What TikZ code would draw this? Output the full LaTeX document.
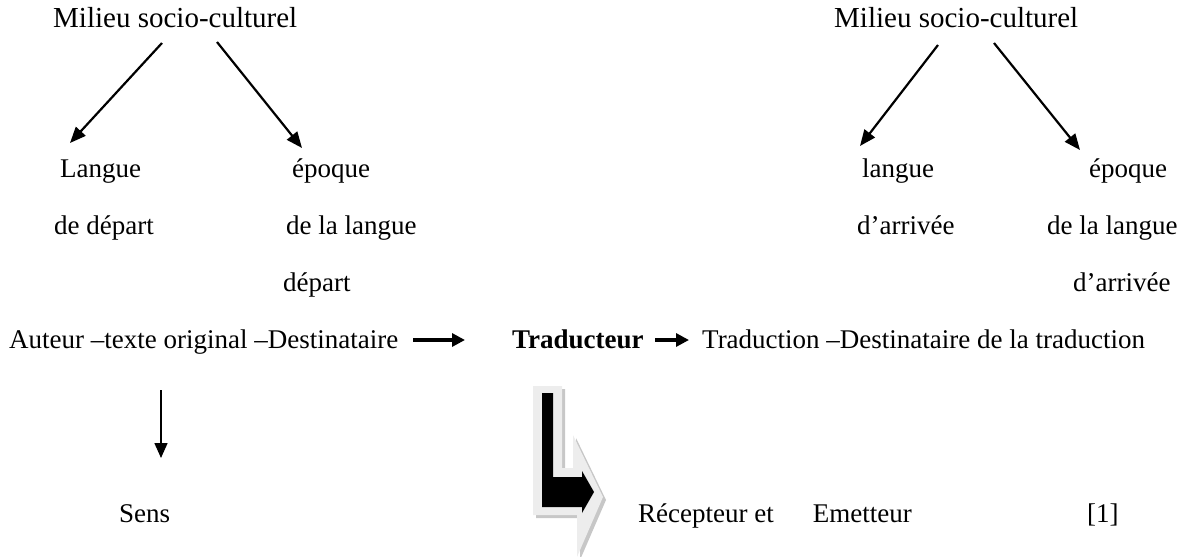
\documentclass[tikz,border=0pt]{standalone}
\usepackage{fontspec}
\setmainfont{Liberation Serif}
\usetikzlibrary{arrows.meta}
\begin{document}
\begin{tikzpicture}[x=1pt,y=-1pt,
  txt/.style={anchor=base west, inner sep=0pt, font=\fontsize{27}{32}\selectfont},
  big/.style={anchor=base west, inner sep=0pt, font=\fontsize{29}{34}\selectfont},
  slant/.style={line width=2.2pt, -{Triangle[length=16pt,width=13pt]}},
  flow/.style={line width=3.2pt, -{Triangle[length=13pt,width=13pt]}},
  down/.style={line width=1.6pt, -{Triangle[length=15pt,width=13pt]}},
  light/.style={fill=black!7, draw=none},
  shade/.style={fill=black!22, draw=none}
]
\useasboundingbox (0,0) rectangle (1179,557);

% top labels
\node[big] (m1) at (53,27) {Milieu socio-culturel};
\node[big] (m2) at (834,27) {Milieu socio-culturel};

% left column
\node[txt] (l1) at (60,177) {Langue};
\node[txt] (l2) at (54,234) {de départ};
\node[txt] (e1) at (292,177) {époque};
\node[txt] (e2) at (286,234) {de la langue};
\node[txt] (e3) at (283,291) {départ};

% right column
\node[txt] (r1) at (862,177) {langue};
\node[txt] (r2) at (857,234) {d’arrivée};
\node[txt] (f1) at (1089,177) {époque};
\node[txt] (f2) at (1047,234) {de la langue};
\node[txt] (f3) at (1073,291) {d’arrivée};

% main line
\node[txt] (aut) at (9,348) {Auteur –texte original –Destinataire};
\node[txt, font=\fontsize{27}{32}\selectfont\bfseries] (trad) at (512,348) {Traducteur};
\node[txt] (tion) at (702,348) {Traduction –Destinataire de la traduction};

% bottom line
\node[txt] (sens) at (119,522) {Sens};
\node[txt] (rec) at (638,522) {Récepteur et\hspace{39pt}Emetteur};
\node[txt] (ref) at (1087,522) {[1]};

% arrow endpoints
\coordinate (a1s) at (162,43);  \coordinate (a1e) at (70,143);
\coordinate (a2s) at (217,42);  \coordinate (a2e) at (302,148);
\coordinate (b1s) at (938,45);  \coordinate (b1e) at (860,146);
\coordinate (b2s) at (994,43);  \coordinate (b2e) at (1080,150);
\coordinate (c1s) at (413,340); \coordinate (c1e) at (465,340);
\coordinate (c2s) at (655,340); \coordinate (c2e) at (689,340);
\coordinate (d1s) at (161,390); \coordinate (d1e) at (161,458);

\draw[slant] (a1s) -- (a1e);
\draw[slant] (a2s) -- (a2e);
\draw[slant] (b1s) -- (b1e);
\draw[slant] (b2s) -- (b2e);
\draw[flow] (c1s) -- (c1e);
\draw[flow] (c2s) -- (c2e);
\draw[down] (d1s) -- (d1e);

% bent 3D arrow
\fill[shade] (536,389) -- (565,389) -- (565,471) -- (576,471) -- (576,438)
  -- (606,500) -- (580,560) -- (580,518) -- (536,518) -- cycle;
\fill[light] (533,386) -- (562,386) -- (562,468) -- (573,468) -- (573,435)
  -- (603,497) -- (577,557) -- (577,515) -- (533,515) -- cycle;
\fill[black] (542,393) -- (553,393) -- (553,477) -- (582,477) -- (582,471)
  -- (594,492) -- (582,513) -- (582,507) -- (542,507) -- cycle;
\end{tikzpicture}
\end{document}
